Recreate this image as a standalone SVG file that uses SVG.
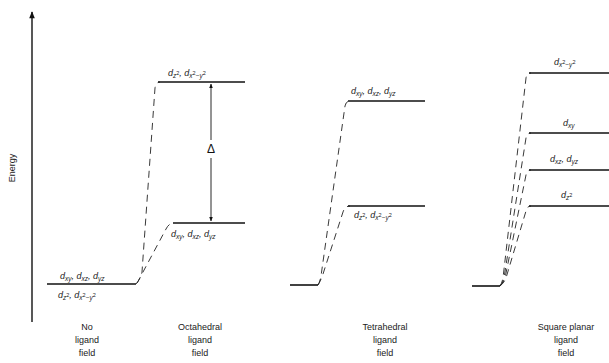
<svg xmlns="http://www.w3.org/2000/svg" width="609" height="363" viewBox="0 0 609 363">
<defs>
<marker id="ah" viewBox="0 0 10 10" refX="9" refY="5" markerWidth="5" markerHeight="5" orient="auto-start-reverse"><path d="M0,1 L10,5 L0,9 Z" fill="#111"/></marker>
<marker id="big" viewBox="0 0 10 10" refX="9" refY="5" markerWidth="7" markerHeight="5" orient="auto"><path d="M0,1 L10,5 L0,9 Z" fill="#111"/></marker>
</defs>
<style>
.lvl{stroke:#111;stroke-width:1.6;fill:none}
.dash{stroke:#222;stroke-width:0.9;fill:none;stroke-dasharray:7 5}
.orb{font-family:"Liberation Sans",Arial,sans-serif;font-size:9px;font-style:italic;fill:#222}
.sub{font-size:6.5px}
.sup{font-size:5.5px;font-style:normal}
.cap{font-family:"Liberation Sans",Arial,sans-serif;font-size:9px;fill:#222;text-anchor:middle}
</style>
<rect width="609" height="363" fill="#fff"/>
<g id="axis">
<line x1="32" y1="322" x2="32" y2="12" stroke="#111" stroke-width="1.4" marker-end="url(#big)"/>
<text class="cap" transform="translate(15,168) rotate(-90)">Energy</text>
</g>
<g id="connectors">
<path class="dash" d="M136,284 Q140,280 142,272 L155,88 Q156,82 160,82"/>
<path class="dash" d="M137,283 Q140,278 143,272 L166,229 Q169,223 174,223"/>
<path class="dash" d="M318,285 Q320,282 321,276 L345,106 Q346,101 350,101"/>
<path class="dash" d="M318,285 Q321,280 323,274 L343,212 Q345,206 350,206"/>
<path class="dash" d="M500,286 Q502,283 503,278 L526,78 Q527,73 531,73"/>
<path class="dash" d="M500,286 Q503,283 504,278 L526,138 Q527,133 531,133"/>
<path class="dash" d="M500,286 Q503,283 505,278 L526,175 Q527,170 531,170"/>
<path class="dash" d="M500,286 Q504,283 506,278 L526,211 Q527,206 531,206"/>
<line x1="211" y1="140" x2="211" y2="84" stroke="#111" stroke-width="0.9" marker-end="url(#ah)"/>
<line x1="211" y1="158" x2="211" y2="221" stroke="#111" stroke-width="0.9" marker-end="url(#ah)"/>
<text x="211" y="153" font-family="Liberation Sans,Arial,sans-serif" font-size="12" text-anchor="middle" fill="#111">Δ</text>
</g>
<g id="free">
<line class="lvl" x1="47" y1="284" x2="136" y2="284"/>
<text class="orb" x="60" y="279">d<tspan class="sub" dy="2">xy</tspan><tspan dy="-2">, d</tspan><tspan class="sub" dy="2">xz</tspan><tspan dy="-2">, d</tspan><tspan class="sub" dy="2">yz</tspan></text>
<text class="orb" x="58" y="298">d<tspan class="sub" dy="2">z</tspan><tspan class="sup" dy="-3">2</tspan><tspan dy="1">, d</tspan><tspan class="sub" dy="2">x</tspan><tspan class="sup" dy="-3">2</tspan><tspan class="sub" dy="3">−y</tspan><tspan class="sup" dy="-3">2</tspan></text>
<text class="cap" x="87" y="330">No</text>
<text class="cap" x="87" y="343">ligand</text>
<text class="cap" x="87" y="356">field</text>
</g>
<g id="octahedral">
<line class="lvl" x1="158" y1="82" x2="245" y2="82"/>
<text class="orb" x="168" y="76">d<tspan class="sub" dy="2">z</tspan><tspan class="sup" dy="-3">2</tspan><tspan dy="1">, d</tspan><tspan class="sub" dy="2">x</tspan><tspan class="sup" dy="-3">2</tspan><tspan class="sub" dy="3">−y</tspan><tspan class="sup" dy="-3">2</tspan></text>
<line class="lvl" x1="173" y1="223" x2="245" y2="223"/>
<text class="orb" x="171" y="237">d<tspan class="sub" dy="2">xy</tspan><tspan dy="-2">, d</tspan><tspan class="sub" dy="2">xz</tspan><tspan dy="-2">, d</tspan><tspan class="sub" dy="2">yz</tspan></text>
<text class="cap" x="200" y="330">Octahedral</text>
<text class="cap" x="200" y="343">ligand</text>
<text class="cap" x="200" y="356">field</text>
</g>
<g id="tetrahedral">
<line class="lvl" x1="290" y1="285" x2="318" y2="285"/>
<line class="lvl" x1="348" y1="101" x2="425" y2="101"/>
<text class="orb" x="351" y="94">d<tspan class="sub" dy="2">xy</tspan><tspan dy="-2">, d</tspan><tspan class="sub" dy="2">xz</tspan><tspan dy="-2">, d</tspan><tspan class="sub" dy="2">yz</tspan></text>
<line class="lvl" x1="348" y1="206" x2="425" y2="206"/>
<text class="orb" x="354" y="218">d<tspan class="sub" dy="2">z</tspan><tspan class="sup" dy="-3">2</tspan><tspan dy="1">, d</tspan><tspan class="sub" dy="2">x</tspan><tspan class="sup" dy="-3">2</tspan><tspan class="sub" dy="3">−y</tspan><tspan class="sup" dy="-3">2</tspan></text>
<text class="cap" x="385" y="330">Tetrahedral</text>
<text class="cap" x="385" y="343">ligand</text>
<text class="cap" x="385" y="356">field</text>
</g>
<g id="squareplanar">
<line class="lvl" x1="472" y1="286" x2="500" y2="286"/>
<line class="lvl" x1="529" y1="73" x2="609" y2="73"/>
<text class="orb" x="554" y="65">d<tspan class="sub" dy="2">x</tspan><tspan class="sup" dy="-3">2</tspan><tspan class="sub" dy="3">−y</tspan><tspan class="sup" dy="-3">2</tspan></text>
<line class="lvl" x1="529" y1="133" x2="609" y2="133"/>
<text class="orb" x="563" y="126">d<tspan class="sub" dy="2">xy</tspan></text>
<line class="lvl" x1="529" y1="170" x2="609" y2="170"/>
<text class="orb" x="550" y="162">d<tspan class="sub" dy="2">xz</tspan><tspan dy="-2">, d</tspan><tspan class="sub" dy="2">yz</tspan></text>
<line class="lvl" x1="529" y1="206" x2="609" y2="206"/>
<text class="orb" x="561" y="198">d<tspan class="sub" dy="2">z</tspan><tspan class="sup" dy="-3">2</tspan></text>
<text class="cap" x="566" y="330">Square planar</text>
<text class="cap" x="566" y="343">ligand</text>
<text class="cap" x="566" y="356">field</text>
</g>
</svg>
